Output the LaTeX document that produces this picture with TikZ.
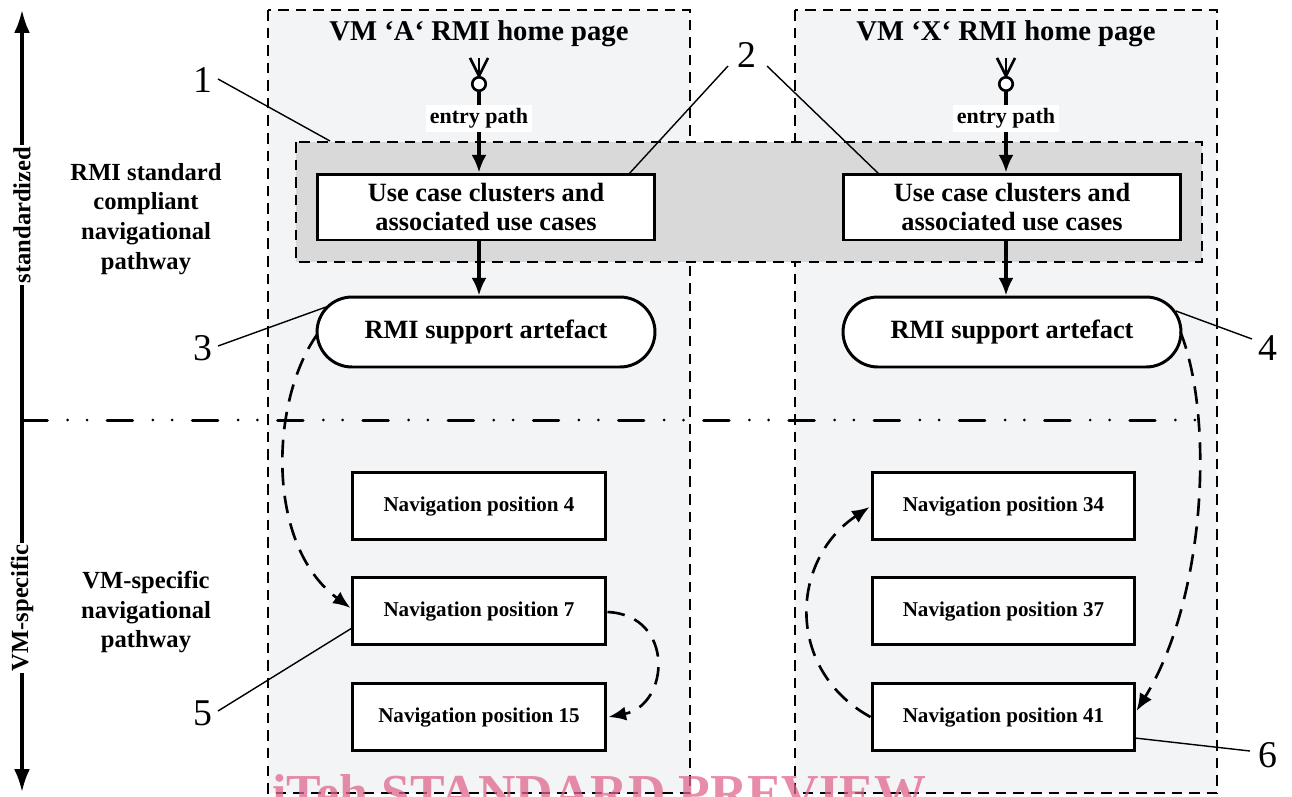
\documentclass[tikz,border=0pt]{standalone}
\usepackage{fontspec}
\setmainfont{Liberation Serif}
\usetikzlibrary{arrows.meta,calc}
\definecolor{colfill}{HTML}{F3F4F6}
\definecolor{bandfill}{HTML}{D9D9D9}
\definecolor{wm}{HTML}{E0668C}
\begin{document}
\begin{tikzpicture}[x=0.02cm,y=-0.02cm,
  col/.style={draw, dash pattern=on 6pt off 4pt, line width=1pt, fill=colfill},
  band/.style={draw, dash pattern=on 6pt off 4pt, line width=0.9pt, fill=bandfill},
  ucbox/.style={draw, line width=1.7pt, fill=white, minimum width=6.76cm, minimum height=1.32cm, align=center, inner sep=0pt, font=\fontsize{15}{16.8}\selectfont\bfseries},
  artbox/.style={draw, line width=1.7pt, fill=white, rounded corners=0.7cm, minimum width=6.76cm, minimum height=1.4cm, inner sep=0pt, font=\fontsize{15}{16.8}\selectfont\bfseries},
  navbox/.style={draw, line width=1.7pt, fill=white, minimum height=1.34cm, inner sep=0pt, font=\fontsize{12}{13}\selectfont\bfseries},
  title/.style={font=\fontsize{16.3}{18}\selectfont\bfseries},
  sidetext/.style={align=center, font=\fontsize{14}{17}\selectfont\bfseries},
  num/.style={font=\fontsize{21.5}{24}\selectfont, inner sep=1pt},
  arr/.style={line width=1.8pt, -{Latex[length=10pt,width=8.5pt]}},
  dasharr/.style={line width=1.5pt, dash pattern=on 10pt off 6pt, -{Latex[length=10pt,width=8pt]}},
  callout/.style={line width=0.8pt},
  entry/.style={fill=white, inner sep=2pt, font=\fontsize{12.5}{14}\selectfont\bfseries},
  axis/.style={line width=1.8pt, -{Latex[length=13pt,width=9pt]}},
  axlabel/.style={fill=white, rotate=90, inner sep=1pt, font=\fontsize{14}{16}\selectfont\bfseries}
]
\useasboundingbox (0,0) rectangle (1292,796);
\clip (0,0) rectangle (1292,796);

% columns and band
\path[col] (268,10) rectangle (690,793);
\path[col] (795,10) rectangle (1217,793);
\path[band] (296,142) rectangle (1202,262);

% dash-dot separator
\draw[line width=1.7pt, line cap=round, dash pattern=on 14.5pt off 11.5pt on 0pt off 11pt on 0pt off 11.5pt] (22,420) -- (1200,420);

% axis
\coordinate (axmid) at (22,420);
\coordinate (axtop) at (22,10);
\coordinate (axbot) at (22,792);
\draw[axis] (axmid) -- node[axlabel, pos=0.5] {standardized} (axtop);
\draw[axis] (axmid) -- node[axlabel, pos=0.505] {VM-specific} (axbot);

% side labels
\node[sidetext] (sideA) at (146,219) {RMI standard\\compliant\\navigational\\pathway};
\node[sidetext] (sideB) at (146,612) {VM-specific\\navigational\\pathway};

% titles
\node[title] (tA) at (479,34) {VM ‘A‘ RMI home page};
\node[title] (tX) at (1006,34) {VM ‘X‘ RMI home page};

% use case boxes
\node[ucbox] (ucA) at (486,207) {Use case clusters and\\associated use cases};
\node[ucbox] (ucX) at (1012,207) {Use case clusters and\\associated use cases};

% artefacts
\node[artbox] (artA) at (486,332) {RMI support artefact};
\node[artbox] (artX) at (1012,332) {RMI support artefact};

% navigation boxes
\node[navbox, minimum width=5.08cm] (n4)  at (479,506) {Navigation position 4};
\node[navbox, minimum width=5.08cm] (n7)  at (479,611) {Navigation position 7};
\node[navbox, minimum width=5.08cm] (n15) at (479,717) {Navigation position 15};
\node[navbox, minimum width=5.26cm] (n34) at (1003.5,506) {Navigation position 34};
\node[navbox, minimum width=5.26cm] (n37) at (1003.5,611) {Navigation position 37};
\node[navbox, minimum width=5.26cm] (n41) at (1003.5,717) {Navigation position 41};

% entry paths
\foreach \c/\x/\u/\a in {cA/479/ucA/artA, cX/1006/ucX/artX}{
  \node[circle, draw, line width=1.5pt, fill=white, minimum size=0.27cm, inner sep=0pt] (\c) at (\x,84) {};
  \draw[line width=1.5pt] (\c.north) -- ++(0,-18);
  \draw[line width=1.5pt] (\c.north) -- ++(-9,-18);
  \draw[line width=1.5pt] (\c.north) -- ++(9,-18);
  \draw[arr] (\c.south) -- node[entry, pos=0.33] {entry path} (\c |- \u.north);
  \draw[arr] (\c |- \u.south) -- (\c |- \a.north);
}

% dashed navigation arrows
\draw[dasharr] ($(artA.west)+(2,2)$) .. controls (270,400) and (265,545) .. ($(n7.west)+(0,-3)$);
\draw[dasharr] ($(n7.east)+(0,1)$) .. controls (675,615) and (670,705) .. ($(n15.east)+(1,0)$);
\draw[dasharr] (n41.west) .. controls (785,670) and (790,560) .. ($(n34.west)+(-1,1)$);
\draw[dasharr] ($(artX.east)+(-2,0)$) .. controls (1215,420) and (1205,600) .. ($(n41.east)+(0,-6)$);

% callouts
\node[num] (l1) at (203,80) {1};
\node[num] (l2) at (747,55) {2};
\node[num] (l3) at (203,348) {3};
\node[num] (l4) at (1268,348) {4};
\node[num] (l5) at (203,713) {5};
\node[num] (l6) at (1268,755) {6};
\coordinate (p1) at (330,141);
\coordinate (p2a) at (628,175);
\coordinate (p2b) at (880,175);
\coordinate (p3) at (326,307);
\coordinate (p4) at (1176,311);
\coordinate (p5) at (352,628);
\coordinate (p6) at (1135,738);
\draw[callout] (218,79) -- (p1);
\draw[callout] (728,66) -- (p2a);
\draw[callout] (767,66) -- (p2b);
\draw[callout] (218,346) -- (p3);
\draw[callout] (1252,339) -- (p4);
\draw[callout] (218,711) -- (p5);
\draw[callout] (1250,751) -- (p6);

% watermark
\node[anchor=base west, text=wm, opacity=0.75, inner sep=0pt, font=\fontsize{29.5}{30}\selectfont\bfseries] (wmk) at (272,810) {iTeh STANDARD PREVIEW};
\end{tikzpicture}
\end{document}
